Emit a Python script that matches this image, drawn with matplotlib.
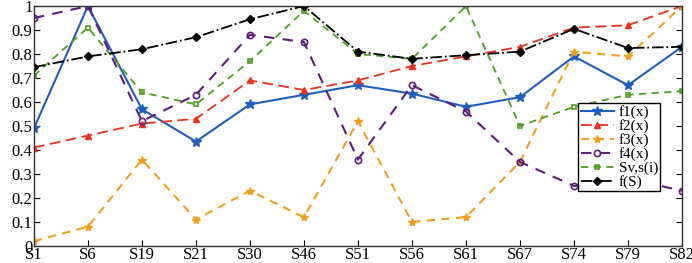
import matplotlib.pyplot as plt
import numpy as np

samples = ['S1', 'S6', 'S19', 'S21', 'S30', 'S46', 'S51', 'S56', 'S61', 'S67', 'S74', 'S79', 'S82']
f1 = [0.49, 1.00, 0.57, 0.435, 0.59, 0.63, 0.67, 0.635, 0.58, 0.62, 0.79, 0.67, 0.83]
f2 = [0.41, 0.46, 0.51, 0.53, 0.69, 0.65, 0.69, 0.75, 0.79, 0.83, 0.91, 0.92, 1.00]
f3 = [0.02, 0.08, 0.36, 0.11, 0.23, 0.12, 0.52, 0.10, 0.12, 0.35, 0.81, 0.79, 1.00]
f4 = [0.95, 1.00, 0.52, 0.63, 0.88, 0.85, 0.36, 0.67, 0.56, 0.35, 0.25, 0.28, 0.23]
sv = [0.71, 0.91, 0.64, 0.59, 0.77, 0.98, 0.80, 0.78, 1.00, 0.50, 0.58, 0.63, 0.645]
fs = [0.745, 0.79, 0.82, 0.87, 0.945, 1.00, 0.81, 0.78, 0.795, 0.81, 0.905, 0.825, 0.83]

plt.rcParams['font.family'] = ['Liberation Serif', 'DejaVu Serif']

fig = plt.figure(figsize=(6.92, 2.63), dpi=100)
ax = fig.add_axes([0.049, 0.065, 0.9365, 0.912])
x = np.arange(len(samples))

ax.plot(x, f1, '-', color='#1f5fbf', lw=1.5, marker='*', ms=7, label='f1(x)')
ax.plot(x, f2, '--', color='#e8321e', lw=1.3, marker='^', ms=5, dashes=(6, 3), label='f2(x)')
ax.plot(x, f3, '--', color='#f0a020', lw=1.5, marker='*', ms=6, dashes=(4, 3), label='f3(x)')
ax.plot(x, f4, '--', color='#5e1d7e', lw=1.5, marker='o', ms=4.5, mfc='none', mew=1.2,
        dashes=(5, 4), label='f4(x)')
ax.plot(x, sv, '--', color='#4e9e20', lw=1.3, marker='s', ms=3.5, mfc='none', mew=1.2,
        dashes=(4, 3), label='Sv,s(i)')
ax.plot(x, fs, '-.', color='black', lw=1.3, marker='D', ms=4, label='f(S)')

ax.set_xlim(0, len(samples) - 1)
ax.set_ylim(0, 1)
ax.set_xticks(x)
ax.set_xticklabels(samples)
ax.set_yticks(np.arange(0, 1.01, 0.1))
ax.set_yticklabels(['0'] + ['%.1f' % v for v in np.arange(0.1, 1.0, 0.1)] + ['1'])
ax.tick_params(direction='in', right=True, labelsize=12, length=4, pad=1)
for s in ax.spines.values():
    s.set_color('#333333')
    s.set_linewidth(1)

leg = ax.legend(loc='upper left', bbox_to_anchor=(0.84, 0.595), fontsize=11,
                frameon=True, fancybox=False, handlelength=2.2, borderpad=0.15,
                labelspacing=0.0, handletextpad=0.3, borderaxespad=0)
leg.get_frame().set_edgecolor('black')
leg.get_frame().set_linewidth(1)
leg.get_frame().set_alpha(1)

plt.savefig('out.png', dpi=100)
